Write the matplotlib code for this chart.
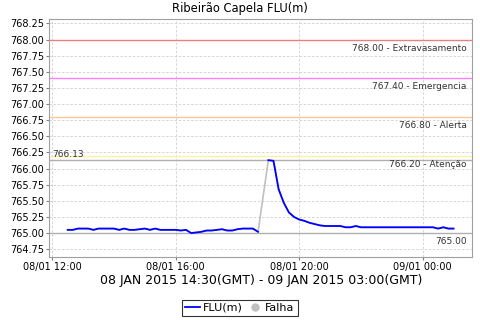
import matplotlib
matplotlib.use('Agg')
from matplotlib import pyplot as plt
import matplotlib.dates as mdates
from matplotlib.lines import Line2D
import pandas as pd

# 10-minute readings, local time (GMT-2)
times = pd.date_range('2015-01-08 12:30', '2015-01-09 01:00', freq='10min')

# None = missing reading (Falha)
flu = [
    765.05, 765.05, 765.07, 765.07, 765.07, 765.05, 765.07, 765.07, 765.07, 765.07,  # 12:30-14:00
    765.05, 765.07, 765.05, 765.05, 765.06, 765.07, 765.05, 765.07, 765.05, 765.05,  # 14:10-15:40
    765.05, 765.05, 765.04, 765.05, 765.00, 765.01, 765.02, 765.04, 765.04, 765.05,  # 15:50-17:20
    765.06, 765.04, 765.04, 765.06, 765.07, 765.07, 765.07, 765.02, None,            # 17:30-18:50
    766.13, 766.12, 765.68, 765.47, 765.32, 765.25, 765.21, 765.19, 765.16, 765.14,  # 19:00-20:30
    765.12, 765.11, 765.11, 765.11, 765.11, 765.09, 765.09, 765.11, 765.09, 765.09,  # 20:40-22:10
    765.09, 765.09, 765.09, 765.09, 765.09, 765.09, 765.09, 765.09, 765.09, 765.09,  # 22:20-23:50
    765.09, 765.09, 765.09, 765.07, 765.09, 765.07, 765.07,                          # 00:00-01:00
]

limit_values = [768.00, 767.40, 766.80, 766.20]
limit_names = ['Extravasamento', 'Emergencia', 'Alerta', 'Atenção']
limit_colors = ['#e88080', '#ff80ff', '#ffc890', '#fff0a0']

series = pd.Series(flu, index=times, dtype=float)
max_val = series.max()
min_val = series.min()

fig = plt.figure(figsize=(4.8, 3.2), dpi=100)
ax = fig.add_axes([0.103, 0.198, 0.881, 0.743])

# reference lines
for v, name, c in zip(limit_values, limit_names, limit_colors):
    ax.axhline(v, color=c, lw=1.0, zorder=2)
    ax.annotate('%.2f - %s' % (v, name), xy=(1, v), xycoords=('axes fraction', 'data'),
                xytext=(-4, -3), textcoords='offset points', ha='right', va='top',
                fontsize=6.5, color='#333333')

ax.axhline(max_val, color='#b0b0b0', lw=1.0, zorder=2)
ax.annotate('%.2f' % max_val, xy=(0, max_val), xycoords=('axes fraction', 'data'),
            xytext=(2, 1), textcoords='offset points', ha='left', va='bottom',
            fontsize=6.5, color='#333333')
ax.axhline(min_val, color='#b0b0b0', lw=1.0, zorder=2)
ax.annotate('%.2f' % min_val, xy=(1, min_val), xycoords=('axes fraction', 'data'),
            xytext=(-4, -3), textcoords='offset points', ha='right', va='top',
            fontsize=6.5, color='#333333')

# gap drawn in grey
valid = series.dropna()
ax.plot(valid.index, valid.values, color='#c0c0c0', lw=1.2, zorder=3)
ax.plot(series.index, series.values, color='#0000ff', lw=1.3, zorder=4)

ax.set_ylim(764.635, 768.32)
ax.set_yticks([764.75 + 0.25 * i for i in range(15)])
ax.yaxis.set_major_formatter(matplotlib.ticker.FormatStrFormatter('%.2f'))
ax.set_xlim(pd.Timestamp('2015-01-08 11:54:30'), pd.Timestamp('2015-01-09 01:36:30'))
ax.xaxis.set_major_locator(mdates.HourLocator(byhour=[0, 4, 8, 12, 16, 20]))
ax.xaxis.set_major_formatter(mdates.DateFormatter('%d/%m %H:%M'))

ax.grid(True, color='#d0d0d0', ls=(0, (3, 2)), lw=0.6)
ax.set_axisbelow(True)
for s in ax.spines.values():
    s.set_color('#a0a0a0')
    s.set_linewidth(0.8)
ax.tick_params(labelsize=7, length=2, color='#808080', pad=2)

# title is centred on the figure, not the axes
fig.text(0.5, 0.973, 'Ribeirão Capela FLU(m)', fontsize=8.3, ha='center', va='center')
ax.set_xlabel('08 JAN 2015 14:30(GMT) - 09 JAN 2015 03:00(GMT)', fontsize=9, labelpad=1)

handles = [Line2D([], [], color='#0000ff', lw=1.3),
           Line2D([], [], color='#c0c0c0', marker='o', ls='none', markersize=5)]
leg = fig.legend(handles, ['FLU(m)', 'Falha'], loc='lower center', bbox_to_anchor=(0.5, 0.005),
                 ncol=2, fontsize=8, frameon=True, fancybox=False, handlelength=1.3,
                 handletextpad=0.3, columnspacing=0.4, borderpad=0.3, borderaxespad=0.2)
leg.get_frame().set_edgecolor('black')
leg.get_frame().set_linewidth(0.8)

fig.savefig('out.png', dpi=100)
